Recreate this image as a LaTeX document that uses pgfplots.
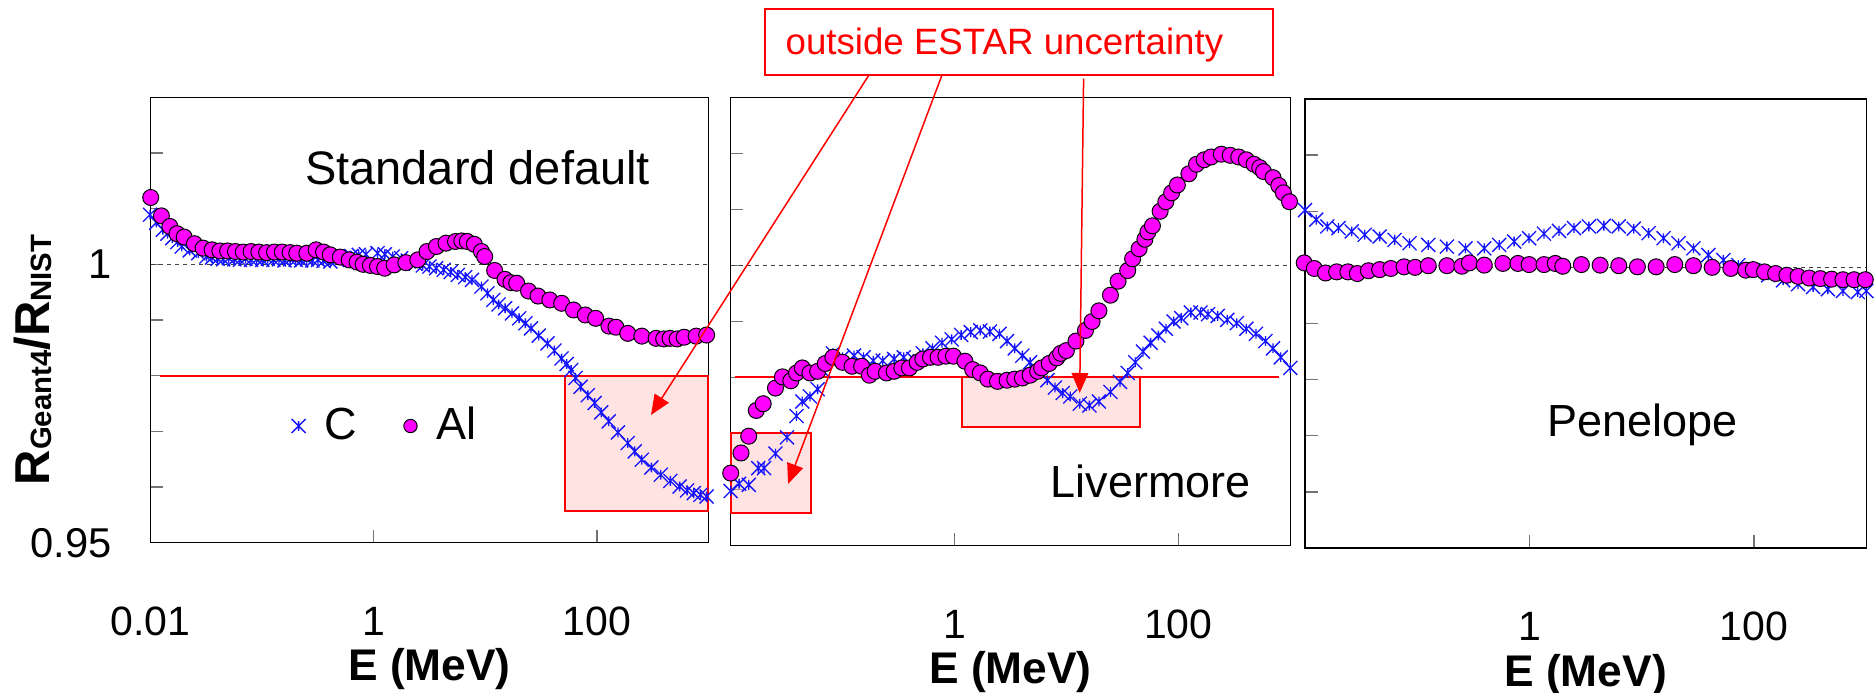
\documentclass[border=0pt]{standalone}
\usepackage{fontspec}
\setmainfont{Liberation Sans}
\usepackage{pgfplots}
\pgfplotsset{compat=1.18}
\usepackage{pgfplotstable}
\usetikzlibrary{arrows.meta}
\definecolor{cblue}{RGB}{20,20,255}
\definecolor{almag}{RGB}{255,0,255}
\definecolor{boxfill}{RGB}{255,185,185}

\pgfdeclareplotmark{xast}{%
  \pgfpathmoveto{\pgfqpoint{-\pgfplotmarksize}{-\pgfplotmarksize}}%
  \pgfpathlineto{\pgfqpoint{\pgfplotmarksize}{\pgfplotmarksize}}%
  \pgfpathmoveto{\pgfqpoint{-\pgfplotmarksize}{\pgfplotmarksize}}%
  \pgfpathlineto{\pgfqpoint{\pgfplotmarksize}{-\pgfplotmarksize}}%
  \pgfpathmoveto{\pgfqpoint{0pt}{-0.7\pgfplotmarksize}}%
  \pgfpathlineto{\pgfqpoint{0pt}{0.7\pgfplotmarksize}}%
  \pgfusepathqstroke}

% x = log10(E/MeV), v = R_Geant4/R_NIST
\pgfplotstableread{
lx v
-2.000 1.0120
-1.904 1.0087
-1.828 1.0068
-1.764 1.0055
-1.700 1.0049
-1.608 1.0037
-1.530 1.0029
-1.450 1.0026
-1.380 1.0024
-1.310 1.0024
-1.240 1.0023
-1.170 1.0022
-1.100 1.0023
-1.030 1.0022
-0.960 1.0021
-0.890 1.0022
-0.820 1.0022
-0.750 1.0021
-0.690 1.0020
-0.600 1.0020
-0.517 1.0026
-0.450 1.0022
-0.390 1.0017
-0.300 1.0013
-0.220 1.0008
-0.150 1.0004
-0.095 1.0000
-0.030 0.9998
0.034 0.9996
0.098 0.9993
0.183 0.9999
0.288 1.0003
0.395 1.0008
0.478 1.0023
0.563 1.0032
0.648 1.0038
0.733 1.0041
0.790 1.0042
0.839 1.0041
0.902 1.0036
0.966 1.0023
0.995 1.0014
1.084 0.9989
1.177 0.9973
1.230 0.9967
1.282 0.9966
1.388 0.9952
1.473 0.9943
1.579 0.9936
1.685 0.9930
1.791 0.9918
1.897 0.9909
1.990 0.9903
2.109 0.9889
2.172 0.9887
2.278 0.9876
2.404 0.9871
2.532 0.9867
2.600 0.9866
2.657 0.9867
2.720 0.9866
2.783 0.9869
2.891 0.9871
2.985 0.9873
}\alstd

\pgfplotstableread{
lx v
-2.006 1.0089
-1.950 1.0075
-1.891 1.0062
-1.850 1.0055
-1.807 1.0047
-1.760 1.0040
-1.722 1.0032
-1.650 1.0025
-1.574 1.0020
-1.500 1.0014
-1.450 1.0012
-1.400 1.0010
-1.350 1.0009
-1.300 1.0011
-1.250 1.0009
-1.200 1.0008
-1.150 1.0010
-1.100 1.0008
-1.050 1.0009
-1.000 1.0008
-0.950 1.0010
-0.900 1.0008
-0.850 1.0009
-0.800 1.0007
-0.750 1.0009
-0.700 1.0008
-0.650 1.0007
-0.600 1.0009
-0.550 1.0007
-0.500 1.0008
-0.450 1.0006
-0.389 1.0005
-0.330 1.0008
-0.270 1.0012
-0.200 1.0015
-0.135 1.0017
-0.070 1.0018
0.034 1.0020
0.100 1.0018
0.170 1.0014
0.246 1.0011
0.310 1.0006
0.373 1.0001
0.440 0.9998
0.500 0.9996
0.560 0.9993
0.627 0.9990
0.690 0.9986
0.754 0.9981
0.820 0.9977
0.881 0.9972
0.966 0.9960
1.020 0.9948
1.072 0.9936
1.120 0.9928
1.178 0.9921
1.240 0.9912
1.304 0.9903
1.360 0.9894
1.410 0.9885
1.480 0.9872
1.558 0.9858
1.620 0.9845
1.685 0.9831
1.730 0.9821
1.770 0.9810
1.810 0.9796
1.855 0.9780
1.920 0.9765
1.981 0.9751
2.040 0.9734
2.108 0.9718
2.190 0.9698
2.278 0.9679
2.340 0.9664
2.404 0.9649
2.490 0.9635
2.574 0.9622
2.660 0.9611
2.743 0.9601
2.810 0.9594
2.870 0.9589
2.930 0.9586
2.985 0.9583
}\cstd

\pgfplotstableread{
lx v
-2.000 0.9629
-1.908 0.9665
-1.839 0.9695
-1.771 0.9741
-1.710 0.9753
-1.600 0.9781
-1.538 0.9801
-1.463 0.9794
-1.412 0.9808
-1.360 0.9817
-1.292 0.9808
-1.223 0.9811
-1.155 0.9825
-1.087 0.9836
-1.001 0.9827
-0.916 0.9820
-0.830 0.9820
-0.761 0.9804
-0.710 0.9811
-0.608 0.9808
-0.540 0.9811
-0.471 0.9817
-0.403 0.9817
-0.334 0.9827
-0.283 0.9833
-0.215 0.9836
-0.147 0.9836
-0.078 0.9838
-0.010 0.9838
0.093 0.9829
0.162 0.9814
0.230 0.9808
0.298 0.9797
0.384 0.9793
0.469 0.9795
0.538 0.9797
0.606 0.9799
0.675 0.9804
0.743 0.9811
0.778 0.9817
0.846 0.9825
0.914 0.9835
0.948 0.9843
0.999 0.9848
1.085 0.9865
1.170 0.9884
1.229 0.9900
1.290 0.9919
1.393 0.9947
1.461 0.9972
1.547 0.9991
1.591 1.0012
1.649 1.0030
1.701 1.0047
1.728 1.0060
1.768 1.0071
1.837 1.0097
1.888 1.0114
1.940 1.0130
1.991 1.0144
2.094 1.0164
2.162 1.0181
2.230 1.0189
2.292 1.0194
2.384 1.0199
2.463 1.0197
2.539 1.0194
2.607 1.0189
2.676 1.0181
2.727 1.0175
2.761 1.0168
2.846 1.0157
2.897 1.0143
2.938 1.0130
2.993 1.0114
}\alliv

\pgfplotstableread{
lx v
-2.000 0.9597
-1.925 0.9610
-1.839 0.9608
-1.754 0.9638
-1.702 0.9638
-1.600 0.9664
-1.497 0.9693
-1.412 0.9731
-1.360 0.9757
-1.292 0.9766
-1.223 0.9779
-1.172 0.9811
-1.087 0.9843
-1.001 0.9836
-0.898 0.9839
-0.813 0.9836
-0.727 0.9830
-0.642 0.9830
-0.540 0.9833
-0.454 0.9836
-0.368 0.9833
-0.283 0.9843
-0.197 0.9852
-0.112 0.9862
-0.026 0.9868
0.059 0.9876
0.145 0.9881
0.230 0.9884
0.316 0.9882
0.402 0.9878
0.469 0.9865
0.538 0.9852
0.606 0.9839
0.675 0.9827
0.743 0.9811
0.829 0.9795
0.897 0.9782
0.966 0.9772
1.034 0.9766
1.119 0.9753
1.205 0.9750
1.290 0.9757
1.393 0.9774
1.479 0.9792
1.547 0.9808
1.615 0.9827
1.684 0.9846
1.752 0.9862
1.821 0.9875
1.889 0.9887
1.958 0.9900
2.026 0.9906
2.112 0.9916
2.197 0.9916
2.265 0.9913
2.351 0.9910
2.437 0.9903
2.522 0.9897
2.607 0.9887
2.693 0.9878
2.778 0.9865
2.846 0.9852
2.915 0.9836
3.000 0.9817
}\cliv

\pgfplotstableread{
lx v
-2.007 1.0008
-1.917 0.9998
-1.817 0.9990
-1.718 0.9992
-1.618 0.9992
-1.534 0.9989
-1.435 0.9994
-1.335 0.9996
-1.235 0.9998
-1.118 1.0001
-1.019 1.0000
-0.902 1.0003
-0.736 1.0003
-0.603 1.0002
-0.536 1.0008
-0.403 1.0004
-0.237 1.0007
-0.103 1.0007
-0.004 1.0005
0.129 1.0005
0.229 1.0007
0.296 1.0002
0.462 1.0005
0.629 1.0004
0.795 1.0003
0.961 1.0001
1.128 1.0001
1.294 1.0005
1.460 1.0003
1.627 1.0000
1.793 0.9998
1.926 0.9995
1.993 0.9996
2.093 0.9992
2.192 0.9989
2.292 0.9986
2.392 0.9984
2.491 0.9981
2.591 0.9980
2.691 0.9979
2.792 0.9978
2.891 0.9978
2.991 0.9978
}\alpen

\pgfplotstableread{
lx v
-2.000 1.0102
-1.900 1.0085
-1.801 1.0073
-1.701 1.0070
-1.584 1.0064
-1.468 1.0058
-1.335 1.0055
-1.202 1.0049
-1.069 1.0043
-0.902 1.0040
-0.736 1.0037
-0.570 1.0034
-0.403 1.0034
-0.270 1.0040
-0.137 1.0046
-0.004 1.0052
0.129 1.0060
0.263 1.0065
0.396 1.0070
0.529 1.0073
0.662 1.0074
0.795 1.0073
0.928 1.0069
1.061 1.0061
1.194 1.0052
1.327 1.0043
1.460 1.0034
1.593 1.0022
1.727 1.0013
1.860 1.0004
1.993 0.9995
2.126 0.9986
2.259 0.9977
2.392 0.9970
2.526 0.9965
2.658 0.9961
2.792 0.9958
2.924 0.9956
3.000 0.9958
}\cpen

\tikzset{
  unity/.style={black!75, dash pattern=on 1.2pt off 1.2pt, line width=0.35pt},
  estar/.style={red, line width=0.6pt},
  estarfill/.style={fill=boxfill, fill opacity=0.4},
}

\pgfplotsset{
  panel/.style={
    scale only axis,
    xmin=-2, xmax=3, ymin=0.95, ymax=1.03,
    clip=false,
    axis line style={black, line width=0.45pt},
    tick align=inside,
    tick pos=left,
    major tick length=3.8pt,
    tick style={black!55, line width=0.45pt},
    xtick={0,2}, xticklabels={1,100},
    ytick={0.96,0.97,0.98,0.99,1,1.01,1.02},
    yticklabels={{},{},{},{},{},{},{}},
    xticklabel style={font=\fontsize{12.3}{12.3}\selectfont, anchor=center, yshift=-23.6pt, inner sep=0pt},
    xlabel={E (MeV)},
    xlabel style={font=\bfseries\fontsize{13.3}{13.3}\selectfont, at={(axis description cs:0.5,0)}, anchor=center, yshift=-38pt, inner sep=0pt},
  },
  cplot/.style={only marks, mark=xast, mark size=2.1pt, color=cblue, mark options={line width=0.4pt}},
  alplot/.style={only marks, mark=*, mark size=2.4pt, mark options={fill=almag, draw=black, line width=0.3pt}},
  widelegend/.style={legend image code/.code={%
      \path[draw=none, fill=none] (-3pt,0pt) rectangle (5.9pt,0.1pt);%
      \draw[##1] plot coordinates {(0pt,0pt)};}},
}

\begin{document}
\begin{tikzpicture}
\useasboundingbox (0,0) rectangle (562.8pt,207.9pt);

% ---------- Standard default ----------
\begin{axis}[panel, at={(45.21pt,45.09pt)}, anchor=south west,
  width=167.28pt, height=133.62pt,
  xtick={-2,0,2}, xticklabels={0.01,1,100},
  ytick={0.95,0.96,0.97,0.98,0.99,1,1.01,1.02},
  yticklabels={0.95,{},{},{},{},1,{},{}},
  yticklabel style={font=\fontsize{12.5}{12.5}\selectfont, anchor=east, inner sep=0pt, xshift=-11.6pt},
  legend style={at={(axis description cs:0.2462,0.262)}, anchor=west, draw=none, fill=none,
    inner sep=0pt, font=\fontsize{13.5}{13.5}\selectfont, legend columns=2,
    /tikz/every even column/.append style={column sep=10.9pt}},
]
\draw[unity] (axis cs:-2,1) -- (axis cs:3,1);
\addplot[cplot, forget plot] table[x=lx,y=v]{\cstd};
\addplot[alplot, forget plot] table[x=lx,y=v]{\alstd};
\fill[estarfill] (axis cs:1.716,0.9557) rectangle (axis cs:3,0.98);
\draw[estar] (axis cs:1.716,0.9557) rectangle (axis cs:3,0.98);
\draw[estar] (axis cs:-1.92,0.98) -- (axis cs:3,0.98);
\addlegendimage{only marks, mark=xast, mark size=2.1pt, color=cblue, mark options={line width=0.4pt}, widelegend}
\addlegendentry{C}
\addlegendimage{only marks, mark=*, mark size=2pt, mark options={fill=almag, draw=black, line width=0.3pt}, widelegend}
\addlegendentry{Al}
\node[anchor=base, font=\fontsize{14.1}{14.1}\selectfont] at (axis cs:0.931,1.0144) {Standard default};
\end{axis}

% ---------- Livermore ----------
\begin{axis}[panel, at={(219.21pt,44.31pt)}, anchor=south west,
  width=167.88pt, height=134.28pt]
\draw[unity] (axis cs:-2,1) -- (axis cs:3,1);
\addplot[cplot] table[x=lx,y=v]{\cliv};
\addplot[alplot] table[x=lx,y=v]{\alliv};
\fill[estarfill] (axis cs:-2,0.9558) rectangle (axis cs:-1.28,0.970);
\draw[estar] (axis cs:-2,0.9558) rectangle (axis cs:-1.28,0.970);
\fill[estarfill] (axis cs:0.066,0.9712) rectangle (axis cs:1.656,0.98);
\draw[estar] (axis cs:0.066,0.9712) rectangle (axis cs:1.656,0.98);
\draw[estar] (axis cs:-1.966,0.98) -- (axis cs:2.897,0.98);
\node[anchor=base, font=\fontsize{13.5}{13.5}\selectfont] at (axis cs:1.752,0.9585) {Livermore};
\end{axis}

% ---------- Penelope ----------
\begin{axis}[panel, at={(391.5pt,43.5pt)}, anchor=south west,
  width=168.39pt, height=134.7pt]
\draw[unity] (axis cs:-2,1) -- (axis cs:3,1);
\addplot[cplot] table[x=lx,y=v]{\cpen};
\addplot[alplot] table[x=lx,y=v]{\alpen};
\node[anchor=base, font=\fontsize{13.5}{13.5}\selectfont] at (axis cs:1.005,0.96995) {Penelope};
\end{axis}

% y-axis title
\node[rotate=90, anchor=base, font=\bfseries, inner sep=0pt] at (14.9pt,99.9pt)
  {\fontsize{14.7}{14.7}\selectfont R\raisebox{-0.5pt}{\fontsize{8.8}{8.8}\selectfont Geant4}/R\raisebox{-0.5pt}{\fontsize{8.8}{8.8}\selectfont NIST}};

% annotation
\draw[red, line width=0.5pt, fill=white] (229.44pt,185.4pt) rectangle (381.9pt,205.23pt);
\node[anchor=base west, inner sep=0pt, text=red, font=\fontsize{11}{11}\selectfont] at (235.5pt,191.6pt) {outside ESTAR uncertainty};
\draw[red, line width=0.45pt, -{Triangle[length=6pt,width=5pt]}] (260.7pt,185.4pt) -- (195.3pt,83.4pt);
\draw[red, line width=0.45pt, -{Triangle[length=6pt,width=5pt]}] (282.6pt,185.4pt) -- (236.43pt,62.73pt);
\draw[red, line width=0.45pt, -{Triangle[length=6pt,width=5pt]}] (325.08pt,184.32pt) -- (323.91pt,90pt);
\end{tikzpicture}
\end{document}
